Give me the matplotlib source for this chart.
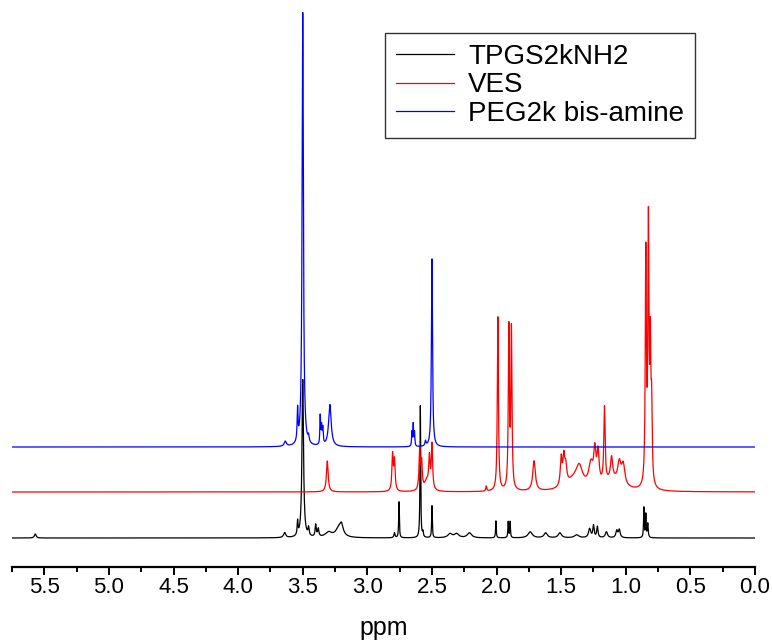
import numpy as np
from matplotlib import pyplot as plt

plt.rcParams['font.family'] = ['Liberation Sans', 'DejaVu Sans']

# peak lists: position (ppm), height, half width (ppm)
tpgs_ppm = [5.57, 3.64, 3.54, 3.50, 3.455, 3.40, 3.38, 3.30, 3.22, 3.20, 2.79, 2.755,
            2.59, 2.57, 2.50, 2.36, 2.31, 2.21, 2.005, 1.91, 1.895, 1.74, 1.62, 1.51,
            1.38, 1.28, 1.25, 1.22, 1.15, 1.07, 1.05, 0.86, 0.845, 0.83]
tpgs_height = [4, 5, 14, 158, 8, 12, 8, 5, 9, 9, 5, 36,
               132, 5, 32, 4, 4, 5, 17, 16, 16, 6, 5, 5,
               3, 9, 12, 11, 6, 7, 8, 30, 23, 14]
tpgs_width = [0.008, 0.01, 0.004, 0.007, 0.005, 0.005, 0.006, 0.03, 0.03, 0.015, 0.005, 0.003,
              0.003, 0.004, 0.003, 0.02, 0.02, 0.02, 0.003, 0.003, 0.003, 0.02, 0.015, 0.015,
              0.02, 0.01, 0.006, 0.006, 0.01, 0.008, 0.008, 0.003, 0.003, 0.004]

ves_ppm = [3.31, 2.805, 2.79, 2.595, 2.58, 2.54, 2.52, 2.50, 2.08, 1.99, 1.905, 1.885,
           1.71, 1.50, 1.48, 1.465, 1.40, 1.36, 1.27, 1.24, 1.215, 1.165, 1.11, 1.10,
           1.05, 1.02, 0.845, 0.825, 0.81, 0.80]
ves_height = [31, 36, 30, 40, 26, 10, 30, 45, 5, 174, 160, 158,
              30, 28, 26, 18, 10, 18, 22, 32, 32, 75, 22, 10,
              20, 20, 230, 255, 130, 70]
ves_width = [0.008, 0.006, 0.006, 0.006, 0.006, 0.02, 0.006, 0.006, 0.004, 0.005, 0.005, 0.005,
             0.012, 0.008, 0.008, 0.01, 0.07, 0.03, 0.02, 0.01, 0.01, 0.006, 0.01, 0.08,
             0.015, 0.015, 0.005, 0.005, 0.005, 0.005]

peg_ppm = [3.635, 3.54, 3.50, 3.455, 3.365, 3.355, 3.345, 3.29, 2.655, 2.645, 2.635, 2.55, 2.50]
peg_height = [5, 32, 434, 6, 28, 18, 16, 42, 14, 22, 14, 5, 188]
peg_width = [0.01, 0.004, 0.006, 0.005, 0.003, 0.004, 0.004, 0.012, 0.003, 0.003, 0.003, 0.005, 0.005]

labels = ['TPGS2kNH2', 'VES', 'PEG2k bis-amine']


def spectrum(x, centers, heights, widths):
    y = np.zeros_like(x)
    for c, h, w in zip(centers, heights, widths):
        y += h * w ** 2 / ((x - c) ** 2 + w ** 2)
    return y


x = np.linspace(5.75, 0.0, 20000)

fig = plt.figure(figsize=(7.72, 6.42), dpi=100)
ax = fig.add_axes([12 / 772, 75 / 642, 743 / 772, 555 / 642])

ax.plot(x, 29 + spectrum(x, tpgs_ppm, tpgs_height, tpgs_width), color='black', lw=0.9, label=labels[0])
ax.plot(x, 75 + spectrum(x, ves_ppm, ves_height, ves_width), color='red', lw=0.9, label=labels[1])
ax.plot(x, 120 + spectrum(x, peg_ppm, peg_height, peg_width), color='blue', lw=0.9, label=labels[2])

ax.set_xlim(5.75, 0.0)
ax.set_ylim(0, 555)
ax.set_xticks(np.arange(0, 5.6, 0.5))
ax.set_xticks(np.arange(0, 5.8, 0.25), minor=True)
ax.set_xticklabels(['%.1f' % v for v in np.arange(0, 5.6, 0.5)])
ax.set_yticks([])
for side in ['left', 'right', 'top']:
    ax.spines[side].set_visible(False)
ax.spines['bottom'].set_linewidth(1.6)
ax.tick_params(axis='x', which='major', length=6, width=1.4, labelsize=16, pad=1)
ax.tick_params(axis='x', which='minor', length=3.5, width=1.4)
ax.set_xlabel('ppm', fontsize=18, labelpad=13)

leg = ax.legend(loc='upper left', bbox_to_anchor=(385 / 772, 1 - 33 / 642),
                bbox_transform=fig.transFigure, fontsize=20, frameon=True, fancybox=False,
                handlelength=2.1, labelspacing=0.08, borderpad=0.4, handletextpad=0.5,
                borderaxespad=0)
leg.get_frame().set_edgecolor('black')
leg.get_frame().set_linewidth(1.0)

fig.savefig('out.png', dpi=100)
